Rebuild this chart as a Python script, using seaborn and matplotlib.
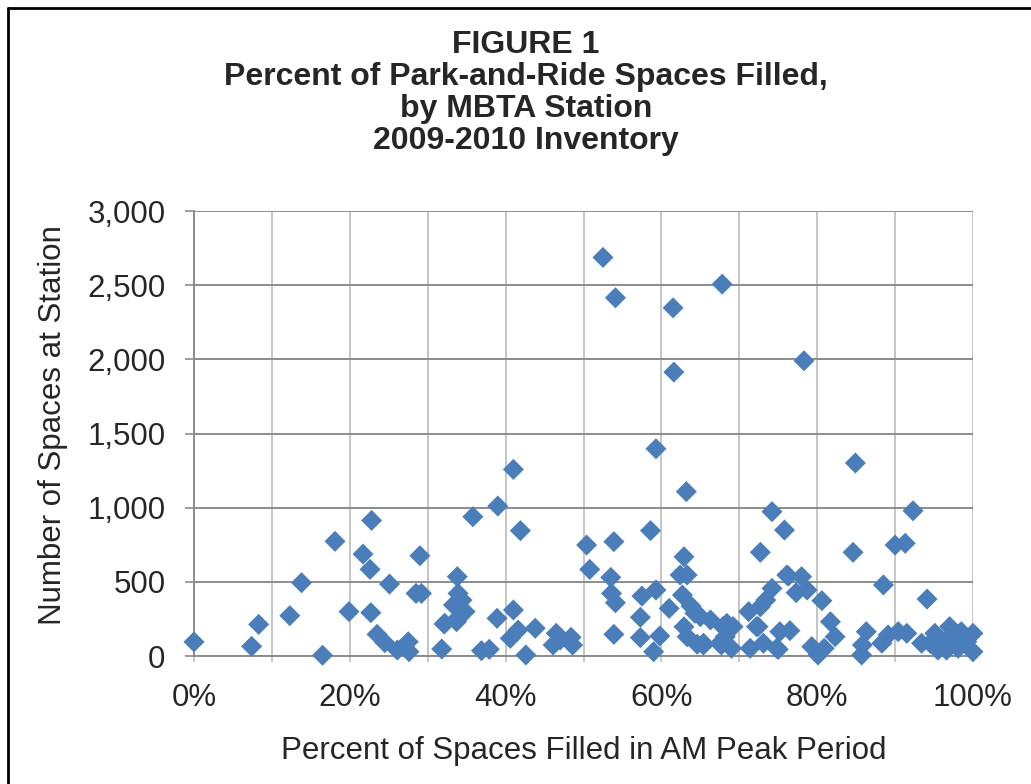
import numpy as np
import pandas as pd
import seaborn as sns
import matplotlib.pyplot as plt
from matplotlib.ticker import FuncFormatter, MultipleLocator
from matplotlib.lines import Line2D

# --- Data: % of spaces filled (AM peak) vs number of spaces ---
pct_filled = [
    0.0, 7.4, 8.3, 12.3, 13.8, 16.5, 18.1, 19.9, 21.7, 22.6,
    22.7, 22.8, 23.5, 24.5, 25.1, 26.1, 27.5, 27.6, 28.5, 29.0,
    29.2, 31.8, 32.1, 32.2, 33.3, 33.6, 33.7, 33.8, 33.9, 34.4,
    34.8, 35.8, 36.9, 37.9, 38.9, 39.0, 40.6, 41.0, 41.0, 41.6,
    41.9, 42.6, 43.8, 46.1, 46.5, 47.0, 48.4, 48.6, 50.4, 50.8,
    52.5, 53.5, 53.6, 53.9, 53.9, 54.1, 54.1, 57.3, 57.3, 57.5,
    58.6, 59.0, 59.3, 59.3, 59.8, 61.0, 61.5, 61.6, 62.4, 62.7,
    62.9, 62.9, 63.2, 63.3, 63.3, 63.8, 64.3, 64.6, 65.0, 65.4,
    65.4, 66.3, 67.5, 67.7, 67.8, 67.9, 68.2, 68.4, 69.0, 69.2,
    71.2, 71.4, 72.2, 72.4, 72.7, 72.7, 73.1, 73.4, 74.2, 74.2,
    74.8, 75.0, 75.2, 75.8, 76.1, 76.3, 76.5, 77.3, 78.0, 78.3,
    78.7, 79.3, 80.1, 80.6, 80.9, 81.7, 82.3, 84.6, 84.9, 85.7,
    85.8, 86.3, 88.3, 88.5, 89.1, 90.0, 90.4, 91.3, 91.5, 92.3,
    93.4, 94.1, 94.5, 95.1, 95.5, 95.9, 96.6, 96.8, 97.0, 97.3,
    98.1, 98.3, 98.5, 99.2, 100.0, 100.0,
]
num_spaces = [
    95, 65, 213, 272, 494, 5, 773, 299, 687, 584,
    292, 914, 146, 90, 485, 40, 96, 29, 422, 676,
    422, 47, 216, 220, 344, 243, 231, 535, 422, 377,
    299, 939, 36, 45, 254, 1011, 119, 310, 1258, 175,
    845, 7, 187, 74, 153, 108, 126, 74, 748, 584,
    2687, 530, 422, 771, 146, 2415, 359, 261, 124, 404,
    845, 29, 445, 1397, 135, 321, 2347, 1914, 546, 411,
    669, 197, 1108, 546, 130, 337, 288, 79, 265, 86,
    74, 243, 86, 74, 2507, 198, 130, 220, 52, 198,
    299, 52, 198, 198, 332, 699, 86, 377, 456, 973,
    52, 45, 164, 849, 546, 539, 171, 427, 535, 1990,
    445, 63, 7, 373, 52, 231, 130, 699, 1301, 7,
    74, 164, 86, 479, 142, 748, 164, 760, 153, 979,
    86, 384, 86, 153, 40, 108, 40, 96, 198, 142,
    52, 153, 164, 96, 153, 29,
]

title_lines = ["FIGURE 1", "Percent of Park-and-Ride Spaces Filled,",
               "by MBTA Station", "2009-2010 Inventory"]

df = pd.DataFrame({"pct": np.array(pct_filled) / 100.0, "spaces": num_spaces})

sns.set_style("white")
plt.rcParams["font.family"] = ["Liberation Sans", "DejaVu Sans"]

fig = plt.figure(figsize=(10.31, 7.84), dpi=100)
ax = fig.add_axes([194 / 1031, 1 - 656 / 784, 779 / 1031, 445 / 784])

# gridlines: light vertical every 10%, darker horizontal every 500
ax.set_axisbelow(True)
ax.xaxis.set_major_locator(MultipleLocator(0.2))
ax.xaxis.set_minor_locator(MultipleLocator(0.1))
ax.yaxis.set_major_locator(MultipleLocator(500))
ax.grid(axis="x", which="both", color="#c0c0c0", linewidth=1.3)
ax.grid(axis="y", which="major", color="#8c8c8c", linewidth=1.4)

sns.scatterplot(data=df, x="pct", y="spaces", marker="D", s=115,
                color="#4a7ebb", edgecolor="none", linewidth=0, ax=ax,
                zorder=3, clip_on=False)

ax.set_xlim(0, 1)
ax.set_ylim(0, 3000)
ax.xaxis.set_major_formatter(FuncFormatter(lambda v, p: f"{v:.0%}"))
ax.yaxis.set_major_formatter(FuncFormatter(lambda v, p: f"{int(v):,}"))

for side in ["top", "right"]:
    ax.spines[side].set_visible(False)
for side in ["left", "bottom"]:
    ax.spines[side].set_color("#8c8c8c")
    ax.spines[side].set_linewidth(1.4)

ax.tick_params(axis="y", which="major", length=6.5, width=1.2, color="#8c8c8c",
               direction="out", labelsize=22.5, pad=14, left=True)
ax.tick_params(axis="x", which="both", length=4, width=1.2, color="#c0c0c0",
               direction="out", bottom=True)
ax.tick_params(axis="x", which="major", labelsize=22.5, pad=15.5)

ax.set_xlabel("Percent of Spaces Filled in AM Peak Period", fontsize=22.5)
ax.set_ylabel("Number of Spaces at Station", fontsize=22.5)
ax.xaxis.set_label_coords(0.5, -0.180)
ax.yaxis.set_label_coords(-0.162, 0.52)

# four-line bold title
for i, line in enumerate(title_lines):
    fig.text(526 / 1031, 1 - (45 + 32 * i) / 784, line, ha="center", va="center",
             fontsize=23, fontweight="bold")

# chart border (left and top edges visible in the crop)
fig.add_artist(Line2D([8 / 1031, 8 / 1031], [0, 1 - 8 / 784], color="black",
                      linewidth=2, transform=fig.transFigure))
fig.add_artist(Line2D([8 / 1031, 1], [1 - 8 / 784, 1 - 8 / 784], color="black",
                      linewidth=2, transform=fig.transFigure))

fig.savefig("out.png", dpi=100)
